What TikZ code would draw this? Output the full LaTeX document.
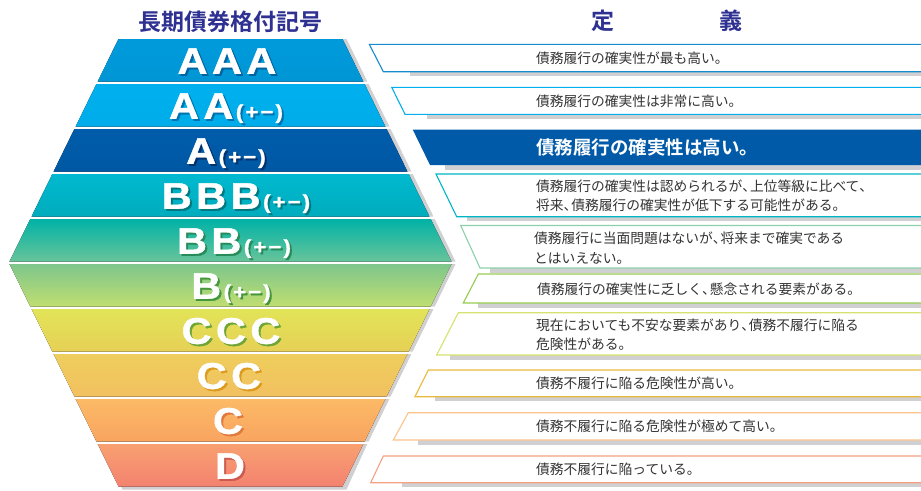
\documentclass[tikz,border=0pt]{standalone}
\usepackage{fontspec}
\newfontfamily\jp[BoldFont={Noto Sans CJK JP Bold}]{Noto Sans CJK JP}
\newfontfamily\gradefont[FakeStretch=1.12,FakeBold=1.3,BoldFont={Liberation Sans Bold}]{Liberation Sans}
\newcommand\gk{\kern4.5pt}
\newcommand\gradepm{\kern2.5pt{\fontsize{20}{20}\selectfont(\kern2pt+\kern2pt−\kern2pt)}}
\newcommand\tenh{\makebox[0.55em][l]{、}}
% band colours (top, bottom, letter shadow)
\definecolor{t0}{RGB}{0,154,218}\definecolor{b0}{RGB}{0,150,214}\definecolor{s0}{RGB}{0,100,160}
\definecolor{t1}{RGB}{0,176,238}\definecolor{b1}{RGB}{0,172,234}\definecolor{s1}{RGB}{0,115,175}
\definecolor{t2}{RGB}{0,92,170}\definecolor{b2}{RGB}{0,88,164}\definecolor{s2}{RGB}{0,50,110}
\definecolor{t3}{RGB}{0,185,208}\definecolor{b3}{RGB}{0,172,188}\definecolor{s3}{RGB}{0,120,130}
\definecolor{t4}{RGB}{0,178,166}\definecolor{b4}{RGB}{104,196,154}\definecolor{s4}{RGB}{40,140,90}
\definecolor{t5}{RGB}{126,198,140}\definecolor{b5}{RGB}{192,222,112}\definecolor{s5}{RGB}{70,150,60}
\definecolor{t6}{RGB}{226,228,88}\definecolor{b6}{RGB}{230,208,86}\definecolor{s6}{RGB}{110,165,55}
\definecolor{t7}{RGB}{238,206,92}\definecolor{b7}{RGB}{242,192,96}\definecolor{s7}{RGB}{220,155,30}
\definecolor{t8}{RGB}{252,186,102}\definecolor{b8}{RGB}{248,164,96}\definecolor{s8}{RGB}{225,120,60}
\definecolor{t9}{RGB}{248,160,112}\definecolor{b9}{RGB}{243,130,112}\definecolor{s9}{RGB}{205,90,80}
% box outline colours
\definecolor{o0}{RGB}{20,140,205}
\definecolor{o1}{RGB}{0,175,236}
\definecolor{o2}{RGB}{0,90,168}
\definecolor{o3}{RGB}{0,182,196}
\definecolor{o4}{RGB}{140,208,170}
\definecolor{o5}{RGB}{150,204,80}
\definecolor{o6}{RGB}{214,226,110}
\definecolor{o7}{RGB}{232,186,60}
\definecolor{o8}{RGB}{250,196,140}
\definecolor{o9}{RGB}{245,160,130}
\definecolor{titleblue}{RGB}{46,49,146}
\definecolor{deftext}{RGB}{51,51,51}
\definecolor{shadowgray}{RGB}{208,208,210}
\tikzset{
  titlelabel/.style={font=\jp\bfseries\fontsize{23}{23}\selectfont, text=titleblue, inner sep=0pt},
  gradelabel/.style={font=\gradefont\bfseries\fontsize{37}{37}\selectfont, text=white, inner sep=0pt, anchor=base},
  deflabel/.style={font=\jp\fontsize{13.75}{19.5}\selectfont, text=deftext, inner sep=0pt, anchor=west, align=left},
  defbold/.style={font=\jp\bfseries\fontsize{18.5}{20}\selectfont, text=white, inner sep=0pt, anchor=west},
  bandshadow/.style={fill=shadowgray},
  boxshadow/.style={fill=shadowgray},
  defbox/.style={fill=white, line width=1.1pt},
}
\begin{document}
\begin{tikzpicture}[x=1pt,y=-1pt]
\useasboundingbox (0,0) rectangle (921,490);
\clip (0,0) rectangle (921,490);

% titles
\node[titlelabel] (title1) at (230,22) {長期債券格付記号};
\node[titlelabel] (title2) at (667,21) {定\hspace{105pt}義};

% bands of the hexagon
\foreach \i/\cx/\lab in {0/227/{A\gk A\gk A},1/226/{A\gk A\gradepm},2/226/{A\gradepm},3/236/{B\gk B\gk B\gradepm},4/234/{B\gk B\gradepm},5/231/{B\gradepm},6/231/{C\gk C\gk C},7/229/{C\gk C},8/228/{C},9/230/{D}}{
  \pgfmathsetmacro\ytop{39+45*\i}
  \pgfmathsetmacro\ybot{\ytop+42.5}
  \pgfmathsetmacro\hwtop{112+0.49*min(\ytop-39,486.5-\ytop)}
  \pgfmathsetmacro\hwbot{112+0.49*min(\ybot-39,486.5-\ybot)}
  \pgfmathsetmacro\ybase{\ytop+34.75}
  \pgfmathsetmacro\ysh{\ybot+(\i==9?3:0)}
  \fill[bandshadow] (230.5-\hwtop+4,\ytop) -- (230.5+\hwtop+4,\ytop) -- (230.5+\hwbot+4,\ysh) -- (230.5-\hwbot+4,\ysh) -- cycle;
  \fill[top color=t\i, bottom color=b\i] (230.5-\hwtop,\ytop) -- (230.5+\hwtop,\ytop) -- (230.5+\hwbot,\ybot) -- (230.5-\hwbot,\ybot) -- cycle;
  \node[gradelabel, text=s\i] (gs\i) at (\cx+2,\ybase+2) {\lab};
  \node[gradelabel] (g\i) at (\cx,\ybase) {\lab};
}

% definition boxes
\foreach \i/\yt/\yb/\tlx/\blx/\shx in {0/44.3/71.7/369.3/383.3/410,1/87.3/114.3/391.7/405/427,2/129.5/165/412.7/430/445,3/174/216.7/436/456.7/467,4/225.5/268/460.7/480/490,5/274/303/478.3/463.3/478,6/312.7/355/458.3/436.7/450,7/370/396.7/428.3/415/435,8/412.7/440/408.3/393.3/418,9/456/482.7/383.3/370.7/402}{
  \fill[boxshadow] (\shx,\yb) rectangle (925,\yb+4.5);
  \ifnum\i=2
    \fill[fill=o2] (\tlx,\yt) -- (930,\yt) -- (930,\yb) -- (\blx,\yb) -- cycle;
  \else
    \filldraw[defbox, draw=o\i] (\tlx,\yt) -- (930,\yt) -- (930,\yb) -- (\blx,\yb) -- cycle;
  \fi
}

\node[deflabel] (d0) at (536,58) {債務履行の確実性が最も高い。};
\node[deflabel] (d1) at (536,101) {債務履行の確実性は非常に高い。};
\node[defbold] (d2) at (536,147.5) {債務履行の確実性は高い。};
\node[deflabel] (d3) at (536,196) {債務履行の確実性は認められるが\tenh 上位等級に比べて\tenh\\将来\tenh 債務履行の確実性が低下する可能性がある。};
\node[deflabel] (d4) at (534,248) {債務履行に当面問題はないが\tenh 将来まで確実である\\とはいえない。};
\node[deflabel] (d5) at (537,289) {債務履行の確実性に乏しく\tenh 懸念される要素がある。};
\node[deflabel] (d6) at (536,335) {現在においても不安な要素があり\tenh 債務不履行に陥る\\危険性がある。};
\node[deflabel] (d7) at (536,383.5) {債務不履行に陥る危険性が高い。};
\node[deflabel] (d8) at (536,426.5) {債務不履行に陥る危険性が極めて高い。};
\node[deflabel] (d9) at (536,469.5) {債務不履行に陥っている。};
\end{tikzpicture}
\end{document}
